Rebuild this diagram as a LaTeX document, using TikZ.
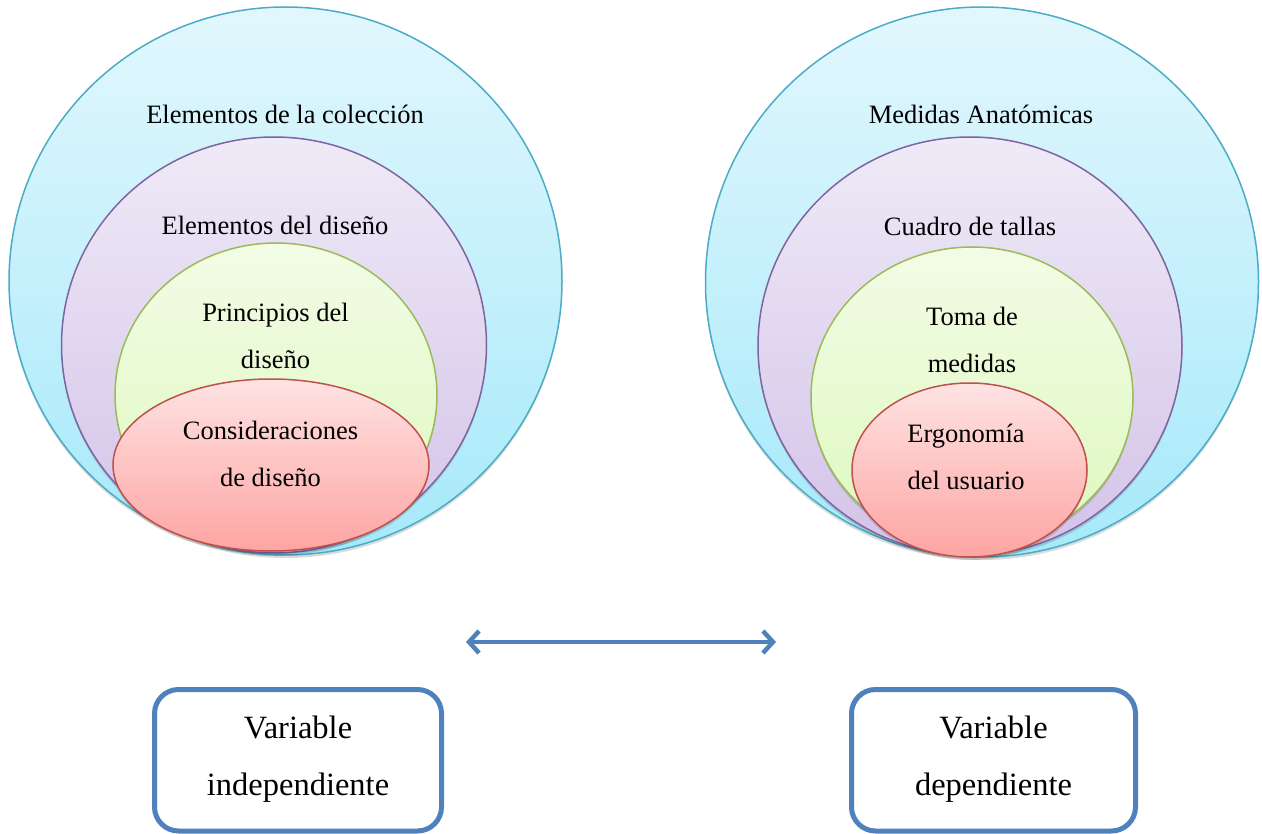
\documentclass[tikz,border=0pt]{standalone}
\usepackage{fontspec}
\setmainfont{Liberation Serif}
\usetikzlibrary{shapes.geometric,shadows,arrows.meta}
\definecolor{aquaE}{HTML}{4BACC6}
\definecolor{aquaT}{HTML}{E2F7FD}
\definecolor{aquaB}{HTML}{A6E9FA}
\definecolor{purE}{HTML}{8064A2}
\definecolor{purT}{HTML}{EFEAF7}
\definecolor{purB}{HTML}{D3C3E8}
\definecolor{grnE}{HTML}{9BBB59}
\definecolor{grnT}{HTML}{F2FCE6}
\definecolor{grnB}{HTML}{DEF8BE}
\definecolor{redE}{HTML}{C0504D}
\definecolor{redT}{HTML}{FEE3E3}
\definecolor{redB}{HTML}{FDA5A2}
\definecolor{blueE}{HTML}{4F81BD}
\begin{document}
\begin{tikzpicture}[x=1pt,y=-1pt,
  ring/.style={ellipse, inner sep=0pt, outer sep=0pt, line width=1.5pt,
    drop shadow={shadow xshift=0pt, shadow yshift=-3pt, opacity=0.14, fill=black}},
  outerring/.style={ring, draw=aquaE, top color=aquaT, bottom color=aquaB},
  purring/.style={ring, draw=purE, top color=purT, bottom color=purB},
  grnring/.style={ring, draw=grnE, top color=grnT, bottom color=grnB},
  redring/.style={ring, draw=redE, top color=redT, bottom color=redB},
  lbl/.style={anchor=base, align=center, inner sep=0pt,
    font=\fontsize{26.5}{47}\selectfont},
  varbox/.style={draw=blueE, line width=5pt, rounded corners=24pt, fill=white},
  vlbl/.style={anchor=base, align=center, inner sep=0pt,
    font=\fontsize{32.5}{57}\selectfont},
  link/.style={draw=blueE, line width=4.5pt,
    {Straight Barb[length=10pt,width=22pt,line width=4.5pt]}-{Straight Barb[length=10pt,width=22pt,line width=4.5pt]}}
]
\useasboundingbox (0,0) rectangle (1262,834);
% left group
\node[outerring, minimum width=553pt, minimum height=548pt] (LA) at (285.5,281) {};
\node[purring, minimum width=425pt, minimum height=416pt] (LB) at (274,345) {};
\node[grnring, minimum width=322pt, minimum height=304pt] (LC) at (276,395) {};
\node[redring, minimum width=316pt, minimum height=172pt] (LD) at (271,465) {};
\node[lbl] (tLA) at (285,124) {Elementos de la colección};
\node[lbl] (tLB) at (275,235) {Elementos del diseño};
\node[lbl] (tLC) at (275.5,369) {Principios del\\diseño};
\node[lbl] (tLD) at (270.5,486) {Consideraciones\\de diseño};
% right group
\node[outerring, minimum width=553pt, minimum height=550pt] (RA) at (982,282) {};
\node[purring, minimum width=424pt, minimum height=418pt] (RB) at (970,346) {};
\node[grnring, minimum width=322pt, minimum height=300pt] (RC) at (972,397) {};
\node[redring, minimum width=235pt, minimum height=174pt] (RD) at (969.5,470) {};
\node[lbl] (tRA) at (981,124) {Medidas Anatómicas};
\node[lbl] (tRB) at (970,236) {Cuadro de tallas};
\node[lbl] (tRC) at (972,373) {Toma de\\medidas};
\node[lbl] (tRD) at (966,489) {Ergonomía\\del usuario};
% arrow
\coordinate (arL) at (466,642);
\coordinate (arR) at (776,642);
\draw[link] (arL) -- (arR);
% boxes
\draw[varbox] (154.5,689.5) rectangle (441.5,831);
\draw[varbox] (851.5,689.5) rectangle (1135.5,831);
\node[vlbl] (vI) at (298,795) {Variable\\independiente};
\node[vlbl] (vD) at (993.5,795) {Variable\\dependiente};
\end{tikzpicture}
\end{document}
